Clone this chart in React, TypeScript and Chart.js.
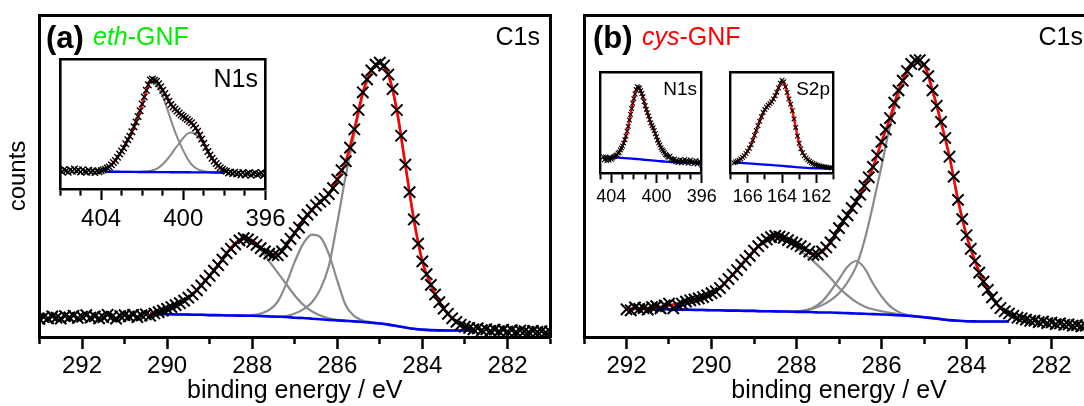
import React, { useEffect, useRef } from 'react';
import { Chart, registerables } from 'chart.js';

Chart.register(...registerables);

const FONT = "'Liberation Sans', Arial, Helvetica, sans-serif";

// regular energy sampling grid (descending binding energy)
function grid(start: number, end: number, step: number): number[] {
  const n = Math.round((start - end) / step);
  const out: number[] = [];
  for (let i = 0; i <= n; i++) out.push(Math.round((start - i * step) * 100) / 100);
  return out;
}

// ---------------- (a) eth-GNF, C1s ----------------
const aEnergy = grid(293.0, 281.0, 0.1);
const aCounts = [
  5.6, 6.2, 5.8, 6.4, 6.0, 5.7, 6.5, 6.1, 6.6, 5.9,
  6.3, 6.8, 6.0, 6.4, 5.8, 6.2, 6.9, 6.3, 5.7, 6.5,
  6.8, 6.4, 6.9, 6.2, 6.7, 7.0, 6.6, 7.3, 7.7, 8.2,
  8.7, 9.3, 9.9, 10.5, 11.3, 12.2, 13.2, 14.5, 16.0, 17.5,
  19.0, 20.6, 22.3, 24.0, 26.0, 27.4, 28.8, 30.0, 30.7, 30.3,
  29.5, 28.6, 27.6, 26.6, 25.9, 25.4, 25.4, 26.6, 28.6, 30.5,
  32.3, 34.0, 36.3, 38.0, 39.4, 40.9, 42.0, 43.0, 44.4, 46.2,
  48.9, 51.8, 54.6, 58.8, 64.5, 70.5, 76.0, 80.0, 82.8, 84.6,
  85.2, 84.3, 81.5, 77.0, 70.5, 62.5, 53.5, 45.0, 36.5, 29.0,
  23.5, 19.5, 16.2, 13.2, 10.8, 8.8, 7.2, 5.8, 4.7, 3.8,
  3.2, 2.8, 2.4, 2.7, 2.1, 2.4, 1.9, 2.3, 1.8, 2.2,
  1.7, 2.1, 1.6, 2.0, 1.8, 1.5, 1.9, 1.6, 1.8, 1.4,
  1.7,
];
const aFitEnergy = grid(290.4, 282.8, 0.2);
const aEnvelope = [
  7.3, 7.8, 8.7, 10.0, 11.4, 13.3, 16.0, 19.1, 22.4, 26.1,
  29.1, 30.7, 30.0, 27.7, 26.0, 25.6, 28.4, 32.3, 36.2, 39.4,
  42.0, 44.4, 48.9, 54.6, 64.5, 76.0, 82.8, 85.0, 81.5, 70.5,
  53.5, 36.5, 23.5, 16.2, 10.8, 7.2, 4.7, 3.2, 2.5,
];
const aBackground = [
  7.2, 7.1, 7.1, 7.0, 7.0, 6.9, 6.9, 6.8, 6.8, 6.7,
  6.7, 6.6, 6.6, 6.5, 6.4, 6.3, 6.2, 6.0, 5.9, 5.7,
  5.5, 5.3, 5.15, 5.0, 4.85, 4.65, 4.45, 4.2, 3.85, 3.4,
  2.95, 2.55, 2.3, 2.15, 2.05, 2.0, 2.0, 2.0, 2.0,
];
const aPeakC1 = [
  7.2, 7.1, 7.1, 7.0, 7.0, 6.9, 6.9, 6.8, 6.8, 6.7,
  6.7, 6.6, 6.6, 6.5, 6.4, 6.3, 6.5, 7.3, 8.6, 10.7,
  14.8, 22.0, 35.5, 50.2, 63.0, 75.0, 82.5, 84.8, 81.2, 70.2,
  53.2, 36.3, 23.3, 16.0, 10.6, 7.1, 4.6, 3.2, 2.4,
];
const aPeakC2 = [
  7.2, 7.1, 7.1, 7.0, 7.0, 6.9, 6.9, 6.8, 6.8, 6.7,
  6.7, 6.7, 6.8, 7.3, 8.4, 11.0, 16.5, 23.4, 29.0, 31.8,
  31.0, 25.8, 17.5, 9.8, 6.5, 5.1, 4.6, 4.3, 3.9, 3.4,
  2.95, 2.55, 2.3, 2.15, 2.05, 2.0, 2.0, 2.0, 2.0,
];
const aPeakC3 = [
  7.3, 7.7, 8.6, 9.9, 11.3, 13.2, 15.9, 19.0, 22.3, 26.0,
  28.8, 30.2, 29.4, 27.0, 23.5, 20.0, 16.4, 12.9, 10.0, 8.0,
  6.7, 5.8, 5.3, 5.05, 4.85, 4.65, 4.45, 4.2, 3.85, 3.4,
  2.95, 2.55, 2.3, 2.15, 2.05, 2.0, 2.0, 2.0, 2.0,
];

// inset (a) N1s
const aN1sEnergy = grid(406.0, 396.0, 0.1);
const aN1sCounts = [
  14.5, 13.2, 15.0, 14.1, 12.9, 14.8, 13.6, 15.3, 13.9, 14.6,
  13.1, 14.9, 13.5, 12.8, 14.4, 13.0, 14.1, 12.6, 13.8, 13.2,
  14.0, 14.6, 15.2, 16.1, 17.0, 18.6, 20.3, 22.0, 24.4, 27.0,
  29.3, 31.6, 34.8, 37.9, 40.6, 44.0, 47.8, 51.5, 55.8, 60.2,
  65.4, 70.8, 76.0, 80.1, 83.8, 84.6, 83.7, 82.8, 80.9, 78.6,
  76.0, 73.4, 70.6, 67.5, 65.0, 63.1, 61.6, 60.0, 58.4, 57.0,
  55.8, 54.6, 53.4, 52.2, 50.9, 49.1, 47.0, 44.4, 41.5, 38.4,
  35.2, 32.0, 28.9, 26.1, 23.6, 21.5, 19.6, 17.8, 16.4, 15.2,
  14.2, 13.6, 12.4, 13.1, 12.0, 12.8, 11.5, 12.3, 11.0, 12.6,
  10.8, 11.9, 12.4, 10.6, 11.8, 12.5, 10.9, 11.6, 12.7, 10.4,
  11.7,
];
const aN1sFitEnergy = grid(403.8, 398.0, 0.2);
const aN1sEnvelope = [
  15.2, 17.1, 20.3, 24.4, 29.3, 34.8, 40.6, 47.8, 55.8, 65.4,
  76.0, 83.6, 83.8, 81.0, 76.0, 70.6, 65.0, 61.6, 58.4, 55.8,
  53.4, 50.9, 47.0, 41.5, 35.2, 28.9, 23.6, 19.6, 16.4, 14.2,
];
const aN1sBackground = [
  13.3, 13.3, 13.3, 13.3, 13.2, 13.2, 13.2, 13.2, 13.1, 13.1,
  13.1, 13.1, 13.0, 13.0, 13.0, 13.0, 12.9, 12.9, 12.9, 12.9,
  12.9, 12.8, 12.8, 12.8, 12.8, 12.8, 12.7, 12.7, 12.7, 12.7,
];
const aN1sPeak1 = [
  15.0, 16.9, 20.2, 24.3, 29.2, 34.7, 40.5, 47.7, 55.7, 65.3,
  75.7, 83.0, 82.0, 77.5, 71.5, 62.5, 53.0, 44.0, 36.5, 29.5,
  23.5, 19.0, 16.2, 14.5, 13.6, 13.1, 12.9, 12.8, 12.7, 12.7,
];
const aN1sPeak2 = [
  13.3, 13.3, 13.3, 13.2, 13.2, 13.2, 13.2, 13.1, 13.1, 13.2,
  13.4, 13.9, 14.8, 16.5, 19.0, 22.5, 26.5, 31.0, 35.0, 39.3,
  42.5, 43.5, 42.0, 38.8, 34.5, 28.6, 23.2, 19.0, 16.2, 14.5,
];

// ---------------- (b) cys-GNF, C1s ----------------
const bEnergy = grid(292.0, 281.0, 0.1);
const bCounts = [
  8.6, 8.3, 9.2, 8.7, 9.0, 8.5, 9.3, 9.6, 8.9, 9.8,
  10.4, 8.9, 9.9, 10.4, 11.0, 11.4, 11.7, 12.0, 12.4, 12.9,
  13.6, 14.2, 15.2, 16.6, 18.0, 19.4, 20.8, 22.4, 23.9, 25.2,
  26.8, 28.2, 29.4, 30.3, 31.0, 31.4, 31.2, 30.8, 30.1, 29.4,
  28.9, 28.2, 27.4, 26.5, 25.5, 25.6, 26.6, 27.8, 29.4, 31.6,
  33.8, 36.0, 37.8, 40.0, 42.0, 44.2, 46.9, 49.6, 52.8, 56.4,
  60.6, 64.4, 68.0, 72.8, 76.6, 79.6, 82.6, 84.8, 85.9, 86.0,
  84.6, 81.0, 76.6, 71.8, 66.8, 61.8, 56.0, 49.8, 42.6, 36.6,
  31.6, 27.4, 23.6, 20.0, 17.2, 14.6, 12.3, 10.5, 9.0, 8.0,
  7.3, 6.6, 6.0, 5.8, 5.4, 5.0, 5.1, 4.6, 4.8, 4.3,
  4.5, 4.0, 4.2, 3.8, 3.9, 3.5, 3.7, 3.3, 3.5, 3.2,
  3.3,
];
const bFitEnergy = grid(292.0, 283.0, 0.2);
const bEnvelope = [
  8.7, 8.8, 8.9, 9.1, 9.4, 9.8, 10.3, 10.9, 11.6, 12.4,
  13.6, 15.2, 18.0, 20.8, 23.9, 26.8, 29.4, 31.0, 31.3, 30.2,
  28.9, 27.3, 25.8, 26.4, 29.4, 33.8, 37.9, 42.0, 46.9, 52.8,
  60.6, 68.0, 76.6, 82.6, 85.8, 84.6, 76.6, 66.8, 56.0, 42.6,
  31.6, 23.6, 17.2, 12.3, 9.0, 7.3,
];
const bBackground = [
  8.7, 8.7, 8.7, 8.6, 8.6, 8.6, 8.5, 8.5, 8.4, 8.4,
  8.3, 8.3, 8.2, 8.2, 8.1, 8.1, 8.0, 8.0, 7.9, 7.9,
  7.8, 7.8, 7.7, 7.6, 7.6, 7.5, 7.4, 7.3, 7.2, 7.1,
  7.0, 6.9, 6.75, 6.6, 6.4, 6.15, 5.85, 5.55, 5.25, 5.05,
  4.9, 4.85, 4.8, 4.8, 4.8, 4.8,
];
const bPeakC1 = [
  8.7, 8.7, 8.7, 8.6, 8.6, 8.6, 8.5, 8.5, 8.4, 8.4,
  8.3, 8.3, 8.2, 8.2, 8.1, 8.1, 8.0, 8.0, 7.9, 7.9,
  8.0, 8.3, 8.9, 9.9, 11.4, 13.6, 17.0, 21.8, 30.0, 41.0,
  53.0, 65.6, 75.0, 81.8, 85.3, 84.2, 76.3, 66.5, 55.8, 42.4,
  31.4, 23.4, 17.0, 12.2, 8.9, 7.2,
];
const bPeakC2 = [
  8.7, 8.7, 8.7, 8.6, 8.6, 8.6, 8.5, 8.5, 8.4, 8.4,
  8.3, 8.3, 8.2, 8.2, 8.1, 8.1, 8.0, 8.0, 7.9, 7.9,
  7.9, 8.2, 9.2, 11.0, 14.2, 18.0, 21.8, 23.6, 21.4, 16.6,
  12.6, 9.6, 7.8, 6.9, 6.5, 6.15, 5.85, 5.55, 5.25, 5.05,
  4.9, 4.85, 4.8, 4.8, 4.8, 4.8,
];
const bPeakC3 = [
  8.7, 8.8, 8.9, 9.1, 9.4, 9.8, 10.3, 10.9, 11.6, 12.4,
  13.5, 15.1, 17.9, 20.7, 23.7, 26.6, 29.1, 30.6, 30.8, 29.6,
  27.8, 25.6, 23.5, 21.0, 18.3, 15.3, 12.9, 10.9, 9.5, 8.6,
  8.0, 7.5, 7.1, 6.7, 6.4, 6.15, 5.85, 5.55, 5.25, 5.05,
  4.9, 4.85, 4.8, 4.8, 4.8, 4.8,
];

// inset (b) N1s
const bN1sEnergy = grid(404.7, 396.0, 0.1);
const bN1sCounts = [
  15.8, 13.1, 15.9, 12.2, 14.6, 12.9, 15.4, 13.6, 14.8, 15.9,
  16.4, 17.4, 17.9, 19.6, 20.5, 22.8, 24.6, 26.7, 29.5, 32.9,
  36.4, 41.2, 46.0, 52.4, 57.8, 63.6, 68.8, 73.4, 78.0, 82.4,
  85.2, 84.2, 83.6, 81.2, 78.4, 75.2, 70.6, 66.4, 62.8, 59.6,
  56.2, 52.8, 49.4, 46.8, 44.6, 42.0, 38.8, 35.8, 32.4, 29.8,
  27.6, 25.0, 23.1, 21.8, 20.0, 18.2, 17.6, 16.0, 15.4, 16.8,
  14.2, 13.3, 12.1, 13.8, 11.0, 12.6, 10.4, 11.8, 13.1, 10.2,
  12.0, 11.1, 13.3, 10.8, 12.2, 9.6, 11.5, 12.8, 10.1, 11.4,
  9.4, 10.9, 12.1, 8.8, 10.6, 11.8, 9.7, 7.9,
];
const bN1sFitEnergy = grid(404.6, 398.4, 0.2);
const bN1sEnvelope = [
  14.9, 14.6, 14.4, 14.4, 15.2, 16.8, 19.4, 23.0, 27.2, 33.0,
  41.0, 51.6, 62.8, 73.6, 81.6, 84.4, 81.0, 74.8, 66.6, 59.4,
  52.6, 46.6, 41.4, 35.6, 30.0, 25.2, 21.4, 18.6, 16.4, 14.8,
  13.6, 12.6,
];
const bN1sBgEnergy = grid(404.6, 396.2, 0.6);
const bN1sBackground = [
  15.6, 15.4, 15.1, 14.7, 14.2, 13.6, 13.0, 12.4, 11.8, 11.2,
  10.8, 10.5, 10.3, 10.2, 10.2,
];

// inset (b) S2p
const bS2pEnergy = grid(166.8, 161.1, 0.1);
const bS2pCounts = [
  10.0, 10.8, 11.6, 12.6, 13.9, 15.4, 17.0, 19.2, 21.6, 24.4,
  28.0, 32.4, 37.2, 42.0, 46.6, 51.0, 55.6, 59.8, 62.6, 65.0,
  66.8, 68.6, 70.4, 73.0, 76.2, 79.8, 84.0, 88.6, 91.6, 90.0,
  85.2, 79.4, 73.2, 68.0, 61.5, 53.4, 45.0, 36.5, 29.4, 24.0,
  20.0, 17.0, 14.8, 13.0, 11.6, 10.4, 9.4, 8.6, 8.0, 7.4,
  7.0, 6.5, 6.3, 5.9, 5.6, 5.3, 5.3, 5.0,
];
const bS2pFitEnergy = grid(166.8, 161.2, 0.2);
const bS2pEnvelope = [
  10.0, 11.6, 13.9, 17.0, 21.6, 28.0, 37.2, 46.6, 55.6, 62.6,
  66.8, 70.4, 76.2, 84.0, 91.2, 85.2, 73.2, 61.5, 45.0, 29.4,
  20.0, 14.8, 11.6, 9.4, 8.0, 7.0, 6.3, 5.6, 5.3,
];
const bS2pBgEnergy = grid(166.8, 161.2, 0.4);
const bS2pBackground = [
  10.2, 10.0, 9.6, 9.1, 8.6, 8.1, 7.6, 7.0, 6.4, 5.8,
  5.3, 4.9, 4.7, 4.6, 4.6,
];

// ---------------- helpers ----------------
const RED = '#ff0000';
const BLUE = '#0000ff';
const GRAY = '#8a8a8a';

const pts = (xs: number[], ys: number[]) => ys.map((y, i) => ({ x: xs[i], y }));

const marks = (xs: number[], ys: number[], r: number, w: number) => ({
  data: pts(xs, ys),
  showLine: false,
  pointStyle: 'crossRot',
  pointRadius: r,
  pointBorderWidth: w,
  pointBorderColor: '#000',
  pointBackgroundColor: '#000',
  borderColor: '#000',
  order: 0,
});

const curve = (xs: number[], ys: number[], color: string, w: number, order: number) => ({
  data: pts(xs, ys),
  borderColor: color,
  borderWidth: w,
  pointRadius: 0,
  cubicInterpolationMode: 'monotone',
  fill: false,
  order,
});

type Spec = {
  left: number; top: number; width: number; height: number;
  plotLeft: number; plotTop: number; plotRight: number; plotBottom: number;
  xMin: number; xMax: number; majorEvery: number;
  tickFont: number; tickLen: number; minorLen: number; tickPad: number; tickWidth: number; frame: number;
  xTitle?: string; yTitle?: string;
  datasets: any[];
};

function buildConfig(s: Spec): any {
  const isMajor = (v: number) => Math.abs(Math.round(v) % s.majorEvery) === 0;
  const frameBorder = { display: true, color: '#000', width: s.frame };
  return {
    type: 'line',
    data: { datasets: s.datasets },
    options: {
      responsive: false,
      animation: false,
      devicePixelRatio: 1,
      events: [],
      layout: { padding: { left: 0, top: s.plotTop, right: s.width - s.plotRight, bottom: 0 } },
      plugins: { legend: { display: false }, tooltip: { enabled: false } },
      scales: {
        x: {
          type: 'linear', position: 'bottom', reverse: true, min: s.xMin, max: s.xMax,
          afterFit: (sc: any) => { sc.height = s.height - s.plotBottom; },
          border: frameBorder,
          grid: {
            display: true, drawOnChartArea: false, drawTicks: true,
            tickLength: s.tickLen, tickWidth: s.tickWidth, tickColor: '#000',
            tickBorderDash: (c: any) => (c.tick && !isMajor(c.tick.value) ? [s.minorLen, 400] : []),
          },
          ticks: {
            stepSize: 1, maxTicksLimit: 200, autoSkip: false, maxRotation: 0, minRotation: 0,
            padding: s.tickPad, color: '#000', font: { family: FONT, size: s.tickFont },
            callback: (v: any) => (isMajor(Number(v)) ? String(Math.round(Number(v))) : ''),
          },
          title: s.xTitle
            ? { display: true, text: s.xTitle, color: '#000', font: { family: FONT, size: 25 }, padding: { top: 0, bottom: 0 } }
            : { display: false },
        },
        xTop: {
          type: 'linear', position: 'top', reverse: true, min: s.xMin, max: s.xMax,
          afterFit: (sc: any) => { sc.height = 0; },
          border: frameBorder,
          grid: { display: false, drawTicks: false },
          ticks: { display: false },
        },
        y: {
          type: 'linear', position: 'left', min: 0, max: 100,
          afterFit: (sc: any) => { sc.width = s.plotLeft; },
          border: frameBorder,
          grid: { display: false, drawTicks: false },
          ticks: { display: false },
          title: s.yTitle
            ? { display: true, text: s.yTitle, color: '#000', font: { family: FONT, size: 24 }, padding: { top: 4, bottom: 0 } }
            : { display: false },
        },
        yRight: {
          type: 'linear', position: 'right', min: 0, max: 100,
          afterFit: (sc: any) => { sc.width = 0; },
          border: frameBorder,
          grid: { display: false, drawTicks: false },
          ticks: { display: false },
        },
      },
    },
  };
}

function XpsChart({ spec }: { spec: Spec }) {
  const ref = useRef<HTMLCanvasElement | null>(null);
  useEffect(() => {
    if (!ref.current) return;
    const chart = new Chart(ref.current, buildConfig(spec));
    return () => chart.destroy();
  }, [spec]);
  return (
    <canvas
      ref={ref}
      width={spec.width}
      height={spec.height}
      style={{ position: 'absolute', left: spec.left, top: spec.top, width: spec.width, height: spec.height }}
    />
  );
}

// ---------------- panel specs ----------------
const mainA: Spec = {
  left: 0, top: 0, width: 560, height: 406,
  plotLeft: 39.5, plotTop: 15, plotRight: 552.7, plotBottom: 337,
  xMin: 281, xMax: 293, majorEvery: 2,
  tickFont: 24, tickLen: 12, minorLen: 5, tickPad: 3, tickWidth: 2.5, frame: 3,
  xTitle: 'binding energy / eV', yTitle: 'counts',
  datasets: [
    marks(aEnergy, aCounts, 8, 2),
    curve(aFitEnergy, aEnvelope, RED, 2.6, 1),
    curve(aFitEnergy, aBackground, BLUE, 2.6, 2),
    curve(aFitEnergy, aPeakC1, GRAY, 2.2, 3),
    curve(aFitEnergy, aPeakC2, GRAY, 2.2, 3),
    curve(aFitEnergy, aPeakC3, GRAY, 2.2, 3),
  ],
};

const mainB: Spec = {
  left: 560, top: 0, width: 560, height: 406,
  plotLeft: 24, plotTop: 15, plotRight: 534, plotBottom: 337,
  xMin: 281, xMax: 293, majorEvery: 2,
  tickFont: 24, tickLen: 12, minorLen: 5, tickPad: 3, tickWidth: 2.5, frame: 3,
  xTitle: 'binding energy / eV',
  datasets: [
    marks(bEnergy, bCounts, 8, 2),
    curve(bFitEnergy, bEnvelope, RED, 2.6, 1),
    curve(bFitEnergy, bBackground, BLUE, 2.6, 2),
    curve(bFitEnergy, bPeakC1, GRAY, 2.2, 3),
    curve(bFitEnergy, bPeakC2, GRAY, 2.2, 3),
    curve(bFitEnergy, bPeakC3, GRAY, 2.2, 3),
  ],
};

const insetAN1s: Spec = {
  left: 40, top: 40, width: 250, height: 200,
  plotLeft: 20, plotTop: 19, plotRight: 225.5, plotBottom: 149,
  xMin: 396, xMax: 406, majorEvery: 4,
  tickFont: 24, tickLen: 11, minorLen: 5, tickPad: 4.5, tickWidth: 2.2, frame: 2.6,
  datasets: [
    marks(aN1sEnergy, aN1sCounts, 4.6, 1.4),
    curve(aN1sFitEnergy, aN1sEnvelope, RED, 2.4, 1),
    curve(aN1sFitEnergy, aN1sBackground, BLUE, 2.4, 2),
    curve(aN1sFitEnergy, aN1sPeak1, GRAY, 2, 3),
    curve(aN1sFitEnergy, aN1sPeak2, GRAY, 2, 3),
  ],
};

const insetBN1s: Spec = {
  left: 580, top: 55, width: 140, height: 160,
  plotLeft: 20, plotTop: 16.7, plotRight: 123, plotBottom: 118,
  xMin: 396, xMax: 405, majorEvery: 4,
  tickFont: 18, tickLen: 10, minorLen: 5, tickPad: 3.3, tickWidth: 2, frame: 2.4,
  datasets: [
    marks(bN1sEnergy, bN1sCounts, 3.3, 1.1),
    curve(bN1sFitEnergy, bN1sEnvelope, RED, 2.3, 1),
    curve(bN1sBgEnergy, bN1sBackground, BLUE, 2.3, 2),
  ],
};

const insetBS2p: Spec = {
  left: 710, top: 55, width: 140, height: 160,
  plotLeft: 20.5, plotTop: 16.7, plotRight: 123.5, plotBottom: 118,
  xMin: 161, xMax: 167, majorEvery: 2,
  tickFont: 18, tickLen: 10, minorLen: 5, tickPad: 3.3, tickWidth: 2, frame: 2.4,
  datasets: [
    marks(bS2pEnergy, bS2pCounts, 3.3, 1.1),
    curve(bS2pFitEnergy, bS2pEnvelope, RED, 2.3, 1),
    curve(bS2pBgEnergy, bS2pBackground, BLUE, 2.3, 2),
  ],
};

// ---------------- text labels ----------------
function Txt(props: { left?: number; right?: number; top: number; size: number; bold?: boolean; color?: string; children: any }) {
  const { left, right, top, size, bold, color, children } = props;
  const style: any = {
    position: 'absolute', top, fontFamily: FONT, fontSize: size, lineHeight: 1,
    fontWeight: bold ? 700 : 400, color: color || '#000', whiteSpace: 'nowrap', zIndex: 5,
  };
  if (right !== undefined) {
    style.left = right - 200;
    style.width = 200;
    style.textAlign = 'right';
  } else {
    style.left = left;
  }
  return <div style={style}>{children}</div>;
}

export default function App() {
  return (
    <div style={{ position: 'absolute', left: 0, top: 0, width: 1084, height: 406, overflow: 'hidden', background: '#fff' }}>
      <XpsChart spec={mainA} />
      <XpsChart spec={mainB} />
      <XpsChart spec={insetAN1s} />
      <XpsChart spec={insetBN1s} />
      <XpsChart spec={insetBS2p} />

      <Txt left={46} top={21.5} size={31} bold>(a)</Txt>
      <Txt left={93} top={23.5} size={25} color="#00ee00"><i>eth</i>-GNF</Txt>
      <Txt right={540} top={24.2} size={25}>C1s</Txt>
      <Txt right={258} top={65.6} size={25}>N1s</Txt>

      <Txt left={593} top={21.5} size={31} bold>(b)</Txt>
      <Txt left={642} top={23.5} size={25} color="#ff0000"><i>cys</i>-GNF</Txt>
      <Txt right={1083} top={24.2} size={25}>C1s</Txt>
      <Txt right={697} top={79} size={19}>N1s</Txt>
      <Txt right={830} top={79} size={19}>S2p</Txt>
    </div>
  );
}
